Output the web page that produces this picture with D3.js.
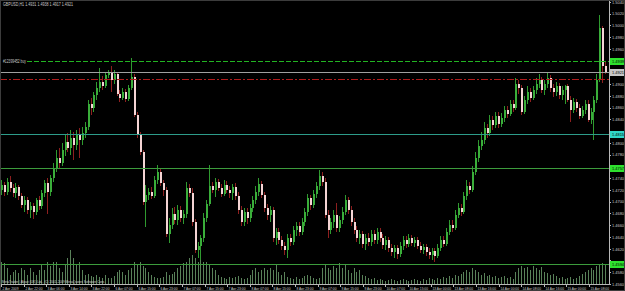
<!DOCTYPE html>
<html>
<head>
<meta charset="utf-8">
<script src="https://cdn.jsdelivr.net/npm/d3@7"></script>
<style>
  html, body { margin: 0; padding: 0; background: #000; }
  svg { display: block; }
</style>
</head>
<body>
<div id="chart"></div>
<script>
// GBPUSD H1 bars, 2 Apr 2009 14:00 .. 15 Apr 2009
const opens = [
  1.4720,1.4728,1.4717,1.4734,1.4723,1.4715,1.4725,1.4710,1.4694,1.4703,
  1.4686,1.4693,1.4683,1.4703,1.4693,1.4715,1.4732,1.4717,1.4740,1.4757,
  1.4774,1.4766,1.4788,1.4802,1.4791,1.4808,1.4796,1.4813,1.4805,1.4817,
  1.4827,1.4866,1.4859,1.4881,1.4893,1.4904,1.4897,1.4916,1.4921,1.4907,
  1.4917,1.4883,1.4876,1.4887,1.4875,1.4893,1.4912,1.4847,1.4813,1.4785,
  1.4700,1.4711,1.4717,1.4710,1.4737,1.4751,1.4732,1.4720,1.4645,1.4660,
  1.4679,1.4669,1.4686,1.4672,1.4679,1.4723,1.4715,1.4666,1.4618,1.4625,
  1.4638,1.4672,1.4696,1.4727,1.4720,1.4734,1.4723,1.4713,1.4728,1.4720,
  1.4715,1.4725,1.4710,1.4686,1.4666,1.4683,1.4672,1.4689,1.4703,1.4717,
  1.4730,1.4711,1.4689,1.4677,1.4686,1.4638,1.4649,1.4635,1.4625,1.4618,
  1.4638,1.4632,1.4652,1.4659,1.4649,1.4666,1.4683,1.4706,1.4694,1.4713,
  1.4727,1.4744,1.4734,1.4677,1.4652,1.4666,1.4677,1.4655,1.4669,1.4683,
  1.4703,1.4686,1.4666,1.4652,1.4638,1.4645,1.4628,1.4638,1.4632,1.4645,
  1.4635,1.4649,1.4638,1.4626,1.4635,1.4621,1.4615,1.4621,1.4611,1.4625,
  1.4635,1.4628,1.4638,1.4630,1.4635,1.4625,1.4618,1.4623,1.4615,1.4609,
  1.4616,1.4608,1.4621,1.4635,1.4628,1.4649,1.4660,1.4655,1.4677,1.4689,
  1.4683,1.4710,1.4727,1.4720,1.4751,1.4774,1.4795,1.4805,1.4825,1.4817,
  1.4839,1.4830,1.4846,1.4832,1.4842,1.4856,1.4849,1.4866,1.4859,1.4900,
  1.4893,1.4853,1.4873,1.4887,1.4876,1.4890,1.4900,1.4907,1.4890,1.4900,
  1.4910,1.4893,1.4887,1.4897,1.4881,1.4890,1.4897,1.4873,1.4856,1.4870,
  1.4859,1.4846,1.4856,1.4866,1.4839,1.4853,1.4873,1.4907,1.4995,1.4931
];
const highs = [
  1.4737,1.4734,1.4740,1.4744,1.4730,1.4732,1.4728,1.4715,1.4710,1.4708,
  1.4700,1.4698,1.4706,1.4710,1.4720,1.4737,1.4740,1.4746,1.4766,1.4788,
  1.4791,1.4800,1.4813,1.4817,1.4822,1.4819,1.4822,1.4825,1.4827,1.4836,
  1.4873,1.4876,1.4887,1.4904,1.4927,1.4914,1.4921,1.4924,1.4931,1.4924,
  1.4921,1.4890,1.4893,1.4892,1.4899,1.4944,1.4917,1.4853,1.4819,1.4788,
  1.4728,1.4723,1.4725,1.4744,1.4762,1.4756,1.4737,1.4725,1.4672,1.4689,
  1.4691,1.4694,1.4693,1.4686,1.4734,1.4730,1.4723,1.4671,1.4632,1.4643,
  1.4681,1.4703,1.4762,1.4734,1.4740,1.4739,1.4730,1.4737,1.4735,1.4727,
  1.4730,1.4732,1.4717,1.4693,1.4689,1.4689,1.4696,1.4710,1.4727,1.4740,
  1.4735,1.4717,1.4696,1.4693,1.4691,1.4655,1.4655,1.4642,1.4632,1.4645,
  1.4645,1.4659,1.4666,1.4666,1.4672,1.4689,1.4713,1.4711,1.4720,1.4734,
  1.4754,1.4751,1.4740,1.4686,1.4672,1.4686,1.4698,1.4676,1.4691,1.4711,
  1.4708,1.4693,1.4672,1.4659,1.4652,1.4650,1.4645,1.4647,1.4652,1.4652,
  1.4655,1.4655,1.4645,1.4642,1.4640,1.4628,1.4626,1.4626,1.4632,1.4642,
  1.4642,1.4645,1.4643,1.4640,1.4640,1.4632,1.4628,1.4628,1.4621,1.4621,
  1.4621,1.4628,1.4642,1.4642,1.4655,1.4669,1.4669,1.4686,1.4698,1.4696,
  1.4717,1.4737,1.4734,1.4761,1.4785,1.4805,1.4819,1.4836,1.4832,1.4847,
  1.4846,1.4853,1.4853,1.4851,1.4863,1.4863,1.4873,1.4873,1.4910,1.4907,
  1.4899,1.4880,1.4897,1.4893,1.4897,1.4910,1.4917,1.4912,1.4907,1.4919,
  1.4916,1.4900,1.4904,1.4902,1.4897,1.4899,1.4900,1.4880,1.4876,1.4875,
  1.4866,1.4863,1.4873,1.4873,1.4859,1.4880,1.4917,1.5018,1.4999,1.4938
];
const lows = [
  1.4711,1.4710,1.4711,1.4717,1.4708,1.4706,1.4703,1.4689,1.4683,1.4679,
  1.4672,1.4671,1.4677,1.4686,1.4688,1.4708,1.4679,1.4710,1.4734,1.4751,
  1.4757,1.4761,1.4778,1.4785,1.4780,1.4771,1.4788,1.4774,1.4796,1.4808,
  1.4822,1.4847,1.4853,1.4873,1.4887,1.4890,1.4893,1.4910,1.4887,1.4900,
  1.4880,1.4870,1.4873,1.4870,1.4871,1.4890,1.4844,1.4808,1.4780,1.4694,
  1.4657,1.4703,1.4705,1.4706,1.4730,1.4727,1.4710,1.4640,1.4630,1.4654,
  1.4662,1.4660,1.4666,1.4662,1.4672,1.4708,1.4659,1.4613,1.4604,1.4601,
  1.4632,1.4666,1.4693,1.4715,1.4708,1.4718,1.4708,1.4710,1.4715,1.4706,
  1.4703,1.4703,1.4679,1.4659,1.4659,1.4662,1.4666,1.4683,1.4696,1.4710,
  1.4706,1.4683,1.4669,1.4666,1.4632,1.4626,1.4628,1.4618,1.4609,1.4604,
  1.4625,1.4626,1.4642,1.4642,1.4643,1.4659,1.4676,1.4686,1.4689,1.4706,
  1.4720,1.4727,1.4672,1.4638,1.4645,1.4655,1.4649,1.4649,1.4662,1.4677,
  1.4679,1.4659,1.4645,1.4632,1.4628,1.4621,1.4618,1.4625,1.4625,1.4628,
  1.4628,1.4632,1.4620,1.4618,1.4615,1.4608,1.4604,1.4603,1.4606,1.4618,
  1.4621,1.4623,1.4625,1.4623,1.4620,1.4613,1.4611,1.4608,1.4603,1.4601,
  1.4598,1.4604,1.4616,1.4623,1.4625,1.4643,1.4649,1.4652,1.4672,1.4676,
  1.4679,1.4703,1.4713,1.4717,1.4746,1.4768,1.4788,1.4798,1.4808,1.4812,
  1.4822,1.4825,1.4825,1.4827,1.4836,1.4842,1.4846,1.4853,1.4856,1.4883,
  1.4847,1.4849,1.4866,1.4870,1.4873,1.4883,1.4893,1.4885,1.4881,1.4893,
  1.4887,1.4878,1.4880,1.4875,1.4873,1.4866,1.4870,1.4836,1.4851,1.4853,
  1.4841,1.4842,1.4849,1.4836,1.4832,1.4805,1.4868,1.4904,1.4902,1.4917
];
const closes = [
  1.4728,1.4717,1.4734,1.4723,1.4715,1.4725,1.4710,1.4694,1.4703,1.4686,
  1.4693,1.4683,1.4703,1.4693,1.4715,1.4732,1.4717,1.4740,1.4757,1.4774,
  1.4766,1.4788,1.4802,1.4791,1.4808,1.4796,1.4813,1.4805,1.4817,1.4827,
  1.4866,1.4859,1.4881,1.4893,1.4904,1.4897,1.4916,1.4921,1.4907,1.4917,
  1.4883,1.4876,1.4887,1.4875,1.4893,1.4912,1.4847,1.4813,1.4785,1.4700,
  1.4711,1.4717,1.4710,1.4737,1.4751,1.4732,1.4720,1.4645,1.4660,1.4679,
  1.4669,1.4686,1.4672,1.4679,1.4723,1.4715,1.4666,1.4618,1.4625,1.4638,
  1.4672,1.4696,1.4727,1.4720,1.4734,1.4723,1.4713,1.4728,1.4720,1.4715,
  1.4725,1.4710,1.4686,1.4666,1.4683,1.4672,1.4689,1.4703,1.4717,1.4730,
  1.4711,1.4689,1.4677,1.4686,1.4638,1.4649,1.4635,1.4625,1.4618,1.4638,
  1.4632,1.4652,1.4659,1.4649,1.4666,1.4683,1.4706,1.4694,1.4713,1.4727,
  1.4744,1.4734,1.4677,1.4652,1.4666,1.4677,1.4655,1.4669,1.4683,1.4703,
  1.4686,1.4666,1.4652,1.4638,1.4645,1.4628,1.4638,1.4632,1.4645,1.4635,
  1.4649,1.4638,1.4626,1.4635,1.4621,1.4615,1.4621,1.4611,1.4625,1.4635,
  1.4628,1.4638,1.4630,1.4635,1.4625,1.4618,1.4623,1.4615,1.4609,1.4616,
  1.4608,1.4621,1.4635,1.4628,1.4649,1.4660,1.4655,1.4677,1.4689,1.4683,
  1.4710,1.4727,1.4720,1.4751,1.4774,1.4795,1.4805,1.4825,1.4817,1.4839,
  1.4830,1.4846,1.4832,1.4842,1.4856,1.4849,1.4866,1.4859,1.4900,1.4893,
  1.4853,1.4873,1.4887,1.4876,1.4890,1.4900,1.4907,1.4890,1.4900,1.4910,
  1.4893,1.4887,1.4897,1.4881,1.4890,1.4897,1.4873,1.4856,1.4870,1.4859,
  1.4846,1.4856,1.4866,1.4839,1.4853,1.4873,1.4907,1.4995,1.4931,1.4921
];
const volumes = [
  2200,2100,1600,900,1200,1400,1100,1600,1400,900,
  1600,1200,900,1400,1900,1400,2200,1800,2200,2200,
  1600,1200,1900,2600,3400,2600,1900,2200,1400,900,
  1000,800,700,900,700,600,900,600,600,800,
  1200,1400,1200,900,1400,1600,2200,1900,2200,1800,
  1600,1200,900,700,600,600,700,1200,900,1000,
  1200,1600,1800,2100,2200,2600,2900,2600,2200,2600,
  2200,2200,2000,1600,1400,900,700,600,500,700,
  600,700,800,600,500,600,900,1400,1600,1200,
  1400,1600,1400,1600,1400,1900,1200,900,1200,700,
  600,500,700,500,600,800,900,800,600,500,
  600,1600,1900,1600,1400,1800,1600,2100,1600,1900,
  1400,1100,1600,1200,1400,900,800,600,500,600,
  400,500,400,300,400,500,400,300,400,500,
  400,300,400,500,400,300,500,400,600,500,
  400,600,500,700,600,800,600,900,800,1000,
  1200,1400,1200,1600,1400,1200,900,1100,800,900,
  700,800,600,700,800,600,700,500,1200,1600,
  1800,1600,1700,1400,1800,1600,1400,1700,1200,1100,
  900,1000,800,600,700,500,600,700,500,600,
  800,1000,1200,1400,1600,1400,1800,2000,2100,1900
];

// time axis labels, one every 8 bars
const timeLabels = [
  "2 Apr 2009", "2 Apr 22:00", "3 Apr 06:00", "3 Apr 14:00", "3 Apr 22:00",
  "6 Apr 07:00", "6 Apr 15:00", "6 Apr 23:00", "7 Apr 07:00", "7 Apr 15:00",
  "7 Apr 23:00", "8 Apr 07:00", "8 Apr 15:00", "8 Apr 23:00", "9 Apr 07:00",
  "9 Apr 15:00", "9 Apr 23:00", "10 Apr 07:00", "10 Apr 15:00", "13 Apr 00:00",
  "13 Apr 08:00", "13 Apr 16:00", "14 Apr 00:00", "14 Apr 08:00", "14 Apr 16:00",
  "15 Apr 00:00", "15 Apr 08:00"
];
const priceTicks = [
  1.5040, 1.5020, 1.5000, 1.4980, 1.4960, 1.4940, 1.4920, 1.4900, 1.4880,
  1.4860, 1.4840, 1.4820, 1.4800, 1.4780, 1.4760, 1.4740, 1.4720, 1.4700,
  1.4680, 1.4660, 1.4640, 1.4620, 1.4600, 1.4580, 1.4560
];
// order open, stop, and three horizontal lines
const levels = [1.4939, 1.4909, 1.4815, 1.4757, 1.4594];

const symbol = "GBPUSD,H1";
const orderText = "#12399452 buy";
const footerText = "MetaTrader | Alpari (UK) Ltd., (C) 2001-2009 MetaQuotes Software Corp.";

const W = 625, H = 291;
const plotRight = 609, plotBottom = 284;

const svg = d3.select("#chart")
    .append("svg")
    .attr("width", W)
    .attr("height", H)
    .style("background", "#000")
    .style("font-family", "'Liberation Sans', Arial, sans-serif");

const n = closes.length;
const x = d3.scaleLinear().domain([0, n - 1]).range([1, 605]);
const y = d3.scaleLinear().domain([1.4560, 1.5043]).range([plotBottom, 0]);
const vy = d3.scaleLinear().domain([0, 3400]).range([plotBottom, 250]);
// label slots along the time axis
const xl = d3.scaleLinear().domain([0, timeLabels.length - 1]).range([1, 589]);

const bars = d3.range(n).map(i => ({
    i: i, o: opens[i], h: highs[i], l: lows[i], c: closes[i], v: volumes[i]
}));

const px = i => Math.round(x(i)) + 0.5;

// volumes at the bottom of the main window
svg.append("g")
    .selectAll("line")
    .data(bars)
    .enter()
    .append("line")
    .attr("x1", d => px(d.i))
    .attr("x2", d => px(d.i))
    .attr("y1", plotBottom)
    .attr("y2", d => vy(d.v))
    .attr("stroke", "#7fb87f")
    .attr("stroke-width", 1)
    .attr("opacity", 0.7);

// candles
const candle = svg.append("g")
    .attr("shape-rendering", "crispEdges")
    .selectAll("g")
    .data(bars)
    .enter()
    .append("g");

candle.append("line")
    .attr("x1", d => px(d.i))
    .attr("x2", d => px(d.i))
    .attr("y1", d => y(d.h))
    .attr("y2", d => y(d.l))
    .attr("stroke", d => d.c >= d.o ? "#2f9a2f" : "#8e1f1f")
    .attr("stroke-width", 1);

candle.append("rect")
    .attr("x", d => px(d.i) - 1)
    .attr("width", 2)
    .attr("y", d => y(Math.max(d.o, d.c)))
    .attr("height", d => Math.max(1, Math.abs(y(d.o) - y(d.c))))
    .attr("fill", d => d.c >= d.o ? "#3aae3a" : "#f4d4d4");

// horizontal lines; dash = [on, off, on, off ...] drawn as small rects
const levelStyle = [
    { stroke: "#22b422", dash: [5, 2], box: "#2ee02e", from: 27 },
    { stroke: "#b01c1c", dash: [7, 2, 2, 2], box: null, from: 0 },
    { stroke: "#2d9c8a", dash: null, box: "#30d4c6", from: 0 },
    { stroke: "#3c9c3c", dash: null, box: "#2ee02e", from: 0 },
    { stroke: "#3c9c3c", dash: null, box: "#2ee02e", from: 0 },
];
const bid = closes[n - 1];

const lines = svg.append("g").attr("shape-rendering", "crispEdges");
levels.forEach((p, k) => {
    const s = levelStyle[k];
    const yy = Math.round(y(p));
    if (!s.dash) {
        lines.append("rect")
            .attr("x", s.from).attr("y", yy)
            .attr("width", plotRight - s.from).attr("height", 1)
            .attr("fill", s.stroke);
        return;
    }
    const period = d3.sum(s.dash);
    const segs = [];
    for (let x0 = s.from; x0 < plotRight; x0 += period) {
        let off = 0;
        s.dash.forEach((len, j) => {
            if (j % 2 === 0) segs.push([x0 + off, Math.min(len, plotRight - x0 - off)]);
            off += len;
        });
    }
    lines.selectAll(null)
        .data(segs.filter(d => d[1] > 0))
        .enter()
        .append("rect")
        .attr("x", d => d[0]).attr("y", yy)
        .attr("width", d => d[1]).attr("height", 1)
        .attr("fill", s.stroke);
});
// bid line
lines.append("rect")
    .attr("x", 0).attr("y", Math.round(y(bid)))
    .attr("width", plotRight).attr("height", 1)
    .attr("fill", "#a0a0a0");

// order label
svg.append("text")
    .attr("x", 3)
    .attr("y", y(levels[0]) + 1.8)
    .attr("font-size", 5)
    .attr("fill", "#c8c8c8")
    .attr("textLength", 23)
    .attr("lengthAdjust", "spacingAndGlyphs")
    .text(orderText);

// price axis
const axis = svg.append("g").attr("shape-rendering", "crispEdges");
axis.append("line")
    .attr("x1", plotRight + 0.5).attr("x2", plotRight + 0.5)
    .attr("y1", 0).attr("y2", plotBottom + 1)
    .attr("stroke", "#b8b8b8");
axis.append("line")
    .attr("x1", 0).attr("x2", plotRight + 1)
    .attr("y1", plotBottom + 0.5).attr("y2", plotBottom + 0.5)
    .attr("stroke", "#b8b8b8");

axis.selectAll(".ptick")
    .data(priceTicks)
    .enter()
    .append("line")
    .attr("x1", plotRight).attr("x2", plotRight + 2)
    .attr("y1", d => Math.round(y(d)) + 0.5)
    .attr("y2", d => Math.round(y(d)) + 0.5)
    .attr("stroke", "#b8b8b8");

// coloured price boxes on the axis
const boxes = levels.map((p, k) => ({ p: p, fill: levelStyle[k].box }))
    .filter(d => d.fill !== null);
boxes.push({ p: bid, fill: "#c8c8c8" });

// tick labels hidden where a box sits on top
const freeTicks = priceTicks.filter(t => !boxes.some(b => Math.abs(y(b.p) - y(t)) < 7));

svg.append("g")
    .selectAll("text")
    .data(freeTicks)
    .enter()
    .append("text")
    .attr("x", plotRight + 3)
    .attr("y", d => y(d) + 1.8)
    .attr("font-size", 4.4)
    .attr("fill", "#c8c8c8")
    .attr("textLength", 12)
    .attr("lengthAdjust", "spacingAndGlyphs")
    .text(d => d.toFixed(4));

const box = svg.append("g").selectAll("g")
    .data(boxes)
    .enter()
    .append("g");
box.append("rect")
    .attr("x", plotRight + 1)
    .attr("y", d => Math.round(y(d.p)) - 3)
    .attr("width", W - plotRight - 2)
    .attr("height", 7)
    .attr("fill", d => d.fill);
box.append("text")
    .attr("x", plotRight + 3)
    .attr("y", d => y(d.p) + 1.8)
    .attr("font-size", 4.4)
    .attr("fill", "#000")
    .attr("textLength", 12)
    .attr("lengthAdjust", "spacingAndGlyphs")
    .text(d => d.p.toFixed(4));

// time axis
const tg = svg.append("g");
timeLabels.forEach((t, k) => {
    const xi = Math.round(xl(k)) + 0.5;
    tg.append("line")
        .attr("x1", xi).attr("x2", xi)
        .attr("y1", plotBottom).attr("y2", plotBottom + 3)
        .attr("stroke", "#b8b8b8")
        .attr("shape-rendering", "crispEdges");
    tg.append("text")
        .attr("x", xi + 1)
        .attr("y", 290)
        .attr("font-size", 4.2)
        .attr("fill", "#c8c8c8")
        .attr("textLength", t.length > 11 ? 18.5 : (t.length > 10 ? 17 : 16))
        .attr("lengthAdjust", "spacingAndGlyphs")
        .text(t);
});

// title and footer
const lastBar = bars[n - 1];
svg.append("text")
    .attr("x", 3)
    .attr("y", 6)
    .attr("font-size", 5)
    .attr("fill", "#c8c8c8")
    .attr("textLength", 70)
    .attr("lengthAdjust", "spacingAndGlyphs")
    .text(symbol + "  " + [lastBar.o, lastBar.h, lastBar.l, lastBar.c].map(v => v.toFixed(4)).join(" "));

svg.append("text")
    .attr("x", 2)
    .attr("y", 282.5)
    .attr("font-size", 4)
    .attr("fill", "#d0d0d0")
    .attr("textLength", 103)
    .attr("lengthAdjust", "spacingAndGlyphs")
    .text(footerText);

// outer frame
svg.append("rect")
    .attr("x", 0.5).attr("y", 0.5)
    .attr("width", W - 1).attr("height", H - 1)
    .attr("fill", "none")
    .attr("stroke", "#3c3c3c")
    .attr("shape-rendering", "crispEdges");
</script>
</body>
</html>
